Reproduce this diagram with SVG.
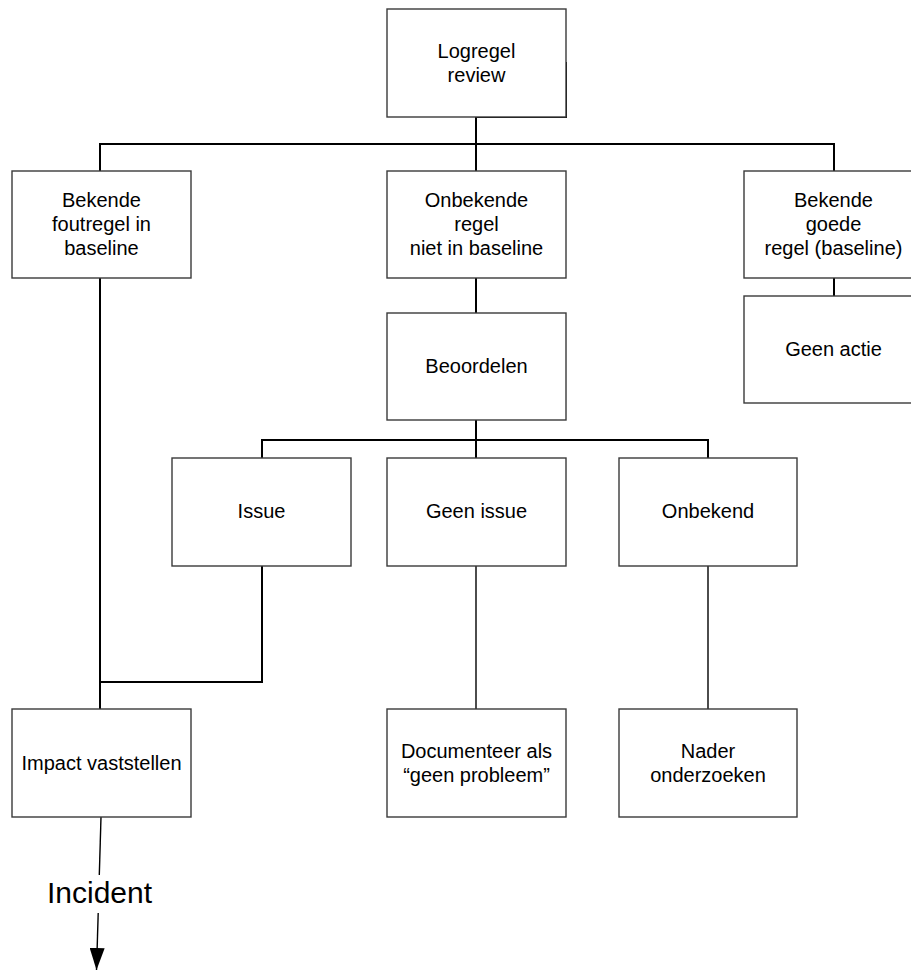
<svg xmlns="http://www.w3.org/2000/svg" width="911" height="970" viewBox="0 0 911 970">
<style>
.box{fill:#fff;stroke:#3a3a3a;stroke-width:1.4}
.lbl{font-family:"Liberation Sans",Arial,sans-serif;font-size:20px;fill:#000;text-anchor:middle}
.big{font-size:30px}
.c{fill:none;stroke:#000;stroke-width:2}
.t{fill:none;stroke:#000;stroke-width:1.4}
</style>
<defs>
<marker id="ah" viewBox="0 0 22 15" markerWidth="22" markerHeight="15" refX="22" refY="7.5" orient="auto" markerUnits="userSpaceOnUse">
<path d="M0,0 L22,7.5 L0,15 z" fill="#000"/>
</marker>
</defs>
<rect width="911" height="970" fill="#fff"/>
<g id="connectors">
<path class="c" d="M566,62 V117 H476 V171"/>
<path class="c" d="M100,171 V144 H834 V171"/>
<path class="c" d="M476,278 V313"/>
<path class="c" d="M834,278 V296"/>
<path class="c" d="M100,278 V709"/>
<path class="c" d="M476,420 V458"/>
<path class="c" d="M262,458 V440 H708 V458"/>
<path class="c" d="M262,566 V682 H100"/>
<path class="t" d="M476,566 V709"/>
<path class="t" d="M708,566 V709"/>
<path class="t" d="M101,817 L99.3,875"/>
<path class="t" d="M98.2,913 L96.5,970" marker-end="url(#ah)"/>
</g>
<g id="n-logregel"><rect class="box" x="387" y="9" width="179" height="108"/><text class="lbl" x="476.5" y="58">Logregel</text><text class="lbl" x="476.5" y="82">review</text></g>
<g id="n-bekende-fout"><rect class="box" x="12" y="171" width="179" height="107"/><text class="lbl" x="101.5" y="207">Bekende</text><text class="lbl" x="101.5" y="231">foutregel in</text><text class="lbl" x="101.5" y="255">baseline</text></g>
<g id="n-onbekende"><rect class="box" x="387" y="171" width="179" height="107"/><text class="lbl" x="476.5" y="207">Onbekende</text><text class="lbl" x="476.5" y="231">regel</text><text class="lbl" x="476.5" y="255">niet in baseline</text></g>
<g id="n-bekende-goed"><rect class="box" x="744" y="171" width="179" height="107"/><text class="lbl" x="833.5" y="207">Bekende</text><text class="lbl" x="833.5" y="231">goede</text><text class="lbl" x="833.5" y="255">regel (baseline)</text></g>
<g id="n-geen-actie"><rect class="box" x="744" y="296" width="179" height="107"/><text class="lbl" x="833.5" y="356">Geen actie</text></g>
<g id="n-beoordelen"><rect class="box" x="387" y="313" width="179" height="107"/><text class="lbl" x="476.5" y="373">Beoordelen</text></g>
<g id="n-issue"><rect class="box" x="172" y="458" width="179" height="108"/><text class="lbl" x="261.5" y="518">Issue</text></g>
<g id="n-geen-issue"><rect class="box" x="387" y="458" width="179" height="108"/><text class="lbl" x="476.5" y="518">Geen issue</text></g>
<g id="n-onbekend"><rect class="box" x="619" y="458" width="178" height="108"/><text class="lbl" x="708" y="518">Onbekend</text></g>
<g id="n-impact"><rect class="box" x="12" y="709" width="179" height="108"/><text class="lbl" x="101.5" y="770">Impact vaststellen</text></g>
<g id="n-documenteer"><rect class="box" x="387" y="709" width="179" height="108"/><text class="lbl" x="476.5" y="758">Documenteer als</text><text class="lbl" x="476.5" y="782">“geen probleem”</text></g>
<g id="n-nader"><rect class="box" x="619" y="709" width="178" height="108"/><text class="lbl" x="708" y="758">Nader</text><text class="lbl" x="708" y="782">onderzoeken</text></g>
<g id="n-incident"><text class="lbl big" x="99.5" y="903">Incident</text></g>
</svg>
